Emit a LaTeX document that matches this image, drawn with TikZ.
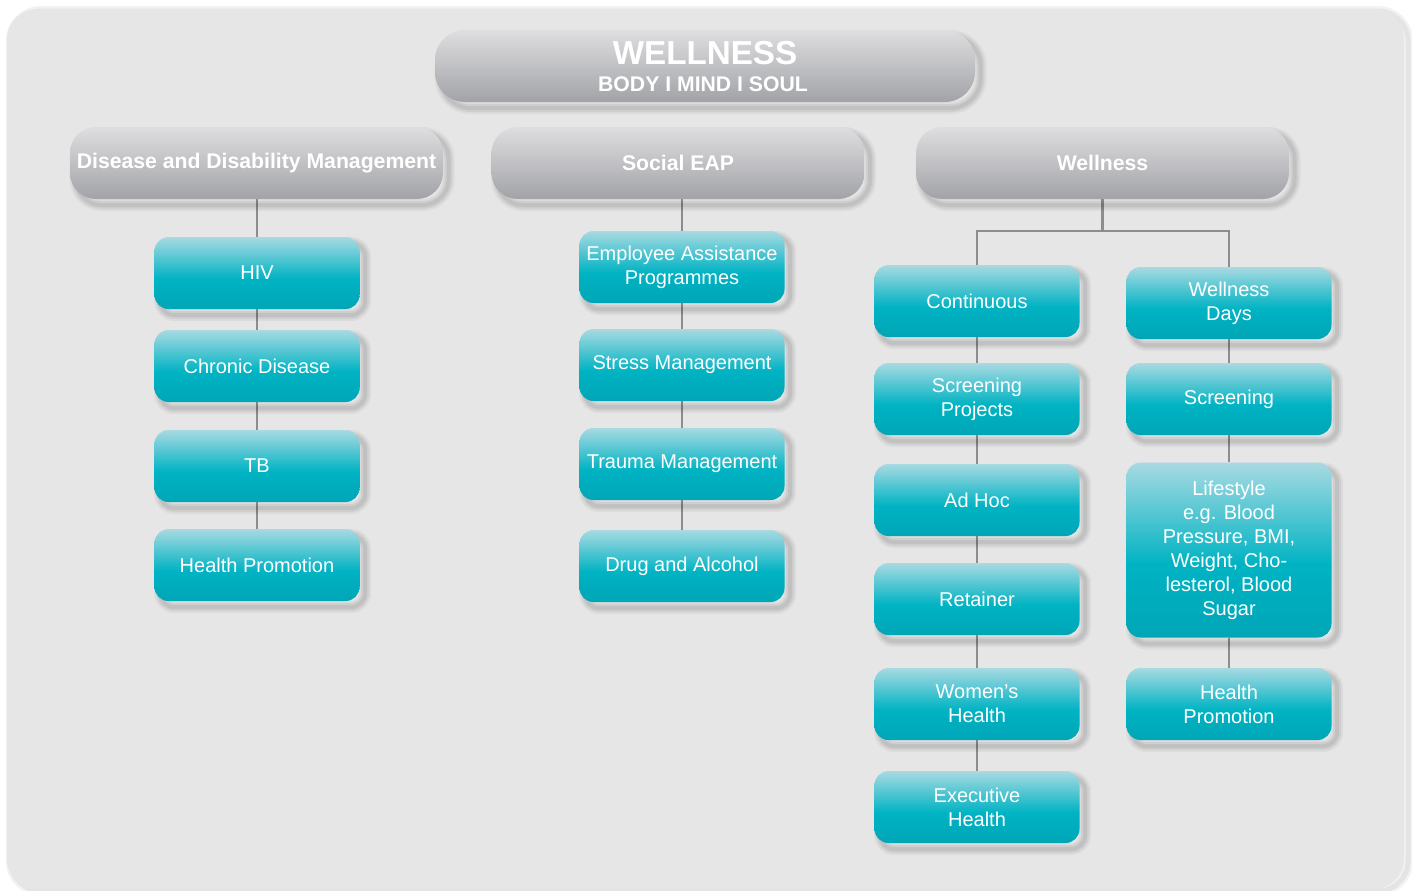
\documentclass[tikz,border=0pt]{standalone}
\usepackage{fontspec}
\setmainfont{Liberation Sans}
\usetikzlibrary{shadows,backgrounds}
\definecolor{bgc}{HTML}{E6E6E7}
\definecolor{gtop}{HTML}{DEDEE0}
\definecolor{gbot}{HTML}{A2A3A7}
\definecolor{ctop}{HTML}{A8DAE2}
\definecolor{cmid}{HTML}{00B3C3}
\definecolor{cbot}{HTML}{00A6B6}
\definecolor{lnc}{HTML}{8D8D91}
\pgfdeclareverticalshading{cyanfill}{100bp}{color(0bp)=(cbot); color(25bp)=(cbot); color(46bp)=(cmid); color(75bp)=(ctop); color(100bp)=(ctop)}
\tikzset{
  softshadow/.style={
    general shadow={shadow xshift=2.8pt, shadow yshift=-3pt, draw=black, draw opacity=0.045, line width=6pt},
    general shadow={shadow xshift=2.8pt, shadow yshift=-3pt, draw=black, draw opacity=0.055, line width=4pt},
    general shadow={shadow xshift=2.8pt, shadow yshift=-3pt, draw=black, draw opacity=0.065, line width=2pt}},
  gbox/.style={rectangle, rounded corners=13pt, top color=gtop, bottom color=gbot,
    minimum width=186.5pt, minimum height=36pt, inner sep=0pt, text=white,
    font=\bfseries\fontsize{10.6}{12}\selectfont, softshadow},
  cbox/.style={rectangle, rounded corners=7pt, shade, shading=cyanfill,
    minimum width=102.5pt, minimum height=36pt, inner sep=0pt, text=white, align=center,
    font=\fontsize{10}{12}\selectfont, softshadow},
  conn/.style={draw=lnc, line width=1.2pt}
}
\begin{document}
\begin{tikzpicture}[x=0.5pt,y=-0.5pt]
\useasboundingbox (0,0) rectangle (1412,890);
% headers
\node[gbox, minimum width=270pt, rounded corners=15pt] (top) at (705,66) {};
\node[text=white, font=\bfseries\fontsize{16.6}{18}\selectfont, inner sep=0pt] (topa) at (705,53) {WELLNESS};
\node[text=white, font=\bfseries\fontsize{10.6}{12}\selectfont, inner sep=0pt] (topb) at (703,84) {BODY I MIND I SOUL};
\node[gbox] (dis) at (256.5,163) {Disease and Disability Management};
\node[gbox] (soc) at (678,163) {Social EAP};
\node[gbox] (wel) at (1102.5,163) {Wellness};
% column 1
\node[cbox] (hiv) at (257,273) {HIV};
\node[cbox] (chr) at (257,366) {Chronic Disease};
\node[cbox] (tb) at (257,466) {TB};
\node[cbox] (hpa) at (257,565) {Health Promotion};
% column 2
\node[cbox] (eap) at (682,267) {Employee Assistance\\Programmes};
\node[cbox] (str) at (682,365) {Stress Management};
\node[cbox] (tra) at (682,464) {Trauma Management};
\node[cbox] (dru) at (682,566) {Drug and Alcohol};
% column 3
\node[cbox] (con) at (977,301) {Continuous};
\node[cbox] (scp) at (977,399) {Screening\\Projects};
\node[cbox] (adh) at (977,500) {Ad Hoc};
\node[cbox] (ret) at (977,599) {Retainer};
\node[cbox] (wom) at (977,704) {Women’s\\Health};
\node[cbox] (exe) at (977,807) {Executive\\Health};
% column 4
\node[cbox] (wdy) at (1229,303) {Wellness\\Days};
\node[cbox] (scr) at (1229,399) {Screening};
\node[cbox, minimum height=87.5pt] (lif) at (1229,550) {Lifestyle\\e.g. Blood\\Pressure, BMI,\\Weight, Cho-\\lesterol, Blood\\Sugar};
\node[cbox] (hpb) at (1229,704) {Health\\Promotion};
\coordinate (j) at (1103,231);
\begin{scope}[on background layer]
\fill[bgc, rounded corners=15pt,
  general shadow={shadow xshift=2pt, shadow yshift=-1pt, draw=black, draw opacity=0.05, line width=5pt},
  general shadow={shadow xshift=2pt, shadow yshift=-1pt, draw=black, draw opacity=0.06, line width=2.5pt}] (7,9) rectangle (1404,889);
\draw[conn] (hiv.north |- dis.south) -- (hiv.north);
\draw[conn] (hiv) -- (chr) -- (tb) -- (hpa);
\draw[conn] (eap.north |- soc.south) -- (eap.north);
\draw[conn] (eap) -- (str) -- (tra) -- (dru);
\draw[conn] (wel.south) -- (wel.south |- j) -| (con.north);
\draw[conn] (wel.south |- j) -| (wdy.north);
\draw[conn] (con) -- (scp) -- (adh) -- (ret) -- (wom) -- (exe);
\draw[conn] (wdy) -- (scr) -- (lif) -- (hpb);
\end{scope}
\end{tikzpicture}
\end{document}
